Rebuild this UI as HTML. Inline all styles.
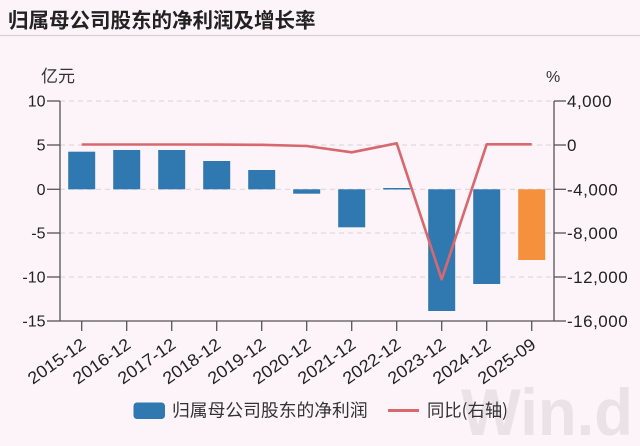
<!DOCTYPE html>
<html><head><meta charset="utf-8">
<style>
html,body{margin:0;padding:0;background:#fcf4f8;}
svg{display:block;}
text{font-family:"Liberation Sans","Noto Sans CJK SC",sans-serif;}
</style></head>
<body>
<svg width="640" height="446" viewBox="0 0 640 446" xmlns="http://www.w3.org/2000/svg">
<rect x="0" y="0" width="640" height="446" fill="#fcf4f8"/>
<!-- title -->
<text x="8" y="27.5" font-size="20.5" font-weight="bold" fill="#222" style="font-family:'Noto Sans CJK SC',sans-serif">归属母公司股东的净利润及增长率</text>
<line x1="0" y1="35.5" x2="640" y2="35.5" stroke="#d4cfd2" stroke-width="1.3"/>

<!-- watermark -->
<text x="461" y="435" font-size="66" font-weight="bold" fill="#ebe2e7" textLength="172" lengthAdjust="spacingAndGlyphs">Win.d</text>

<!-- gridlines -->
<g stroke="#d9d2d6" stroke-width="1" stroke-dasharray="5,4">
<line x1="60" y1="101" x2="554" y2="101"/>
<line x1="60" y1="145" x2="554" y2="145"/>
<line x1="60" y1="189.3" x2="554" y2="189.3"/>
<line x1="60" y1="233" x2="554" y2="233"/>
<line x1="60" y1="277" x2="554" y2="277"/>
</g>

<!-- bars -->
<g fill="#2f78b0">
<rect x="68.2" y="151.7" width="27" height="37.6"/>
<rect x="113.2" y="150" width="27" height="39.3"/>
<rect x="158.2" y="150" width="27" height="39.3"/>
<rect x="203.2" y="161" width="27" height="28.3"/>
<rect x="248.2" y="170" width="27" height="19.3"/>
<rect x="293.2" y="189.3" width="27" height="4.4"/>
<rect x="338.2" y="189.3" width="27" height="38"/>
<rect x="383.2" y="188" width="27" height="1.5"/>
<rect x="428.2" y="189.3" width="27" height="121.7"/>
<rect x="473.2" y="189.3" width="27" height="94.7"/>
</g>
<rect x="518.2" y="189.3" width="27" height="70.7" fill="#f5913d"/>

<!-- line -->
<polyline fill="none" stroke="#d8686d" stroke-width="2.6" stroke-linejoin="round"
 points="81.7,144.5 126.7,144.5 171.7,144.5 216.7,144.6 261.7,144.8 306.7,146 351.7,152.3 396.7,143.3 441.7,279.3 486.7,144.3 531.7,144.3"/>

<!-- axes -->
<g stroke="#555" stroke-width="1.3" fill="none">
<line x1="60" y1="101" x2="60" y2="321"/>
<line x1="554" y1="101" x2="554" y2="321"/>
<line x1="60" y1="321" x2="554" y2="321"/>
<line x1="47" y1="101" x2="60" y2="101"/>
<line x1="47" y1="145" x2="60" y2="145"/>
<line x1="47" y1="189.3" x2="60" y2="189.3"/>
<line x1="47" y1="233" x2="60" y2="233"/>
<line x1="47" y1="277" x2="60" y2="277"/>
<line x1="47" y1="321" x2="60" y2="321"/>
<line x1="554" y1="101" x2="566" y2="101"/>
<line x1="554" y1="145" x2="566" y2="145"/>
<line x1="554" y1="189.3" x2="566" y2="189.3"/>
<line x1="554" y1="233" x2="566" y2="233"/>
<line x1="554" y1="277" x2="566" y2="277"/>
<line x1="554" y1="321" x2="566" y2="321"/>
<line x1="81.7" y1="321" x2="81.7" y2="331"/>
<line x1="126.7" y1="321" x2="126.7" y2="331"/>
<line x1="171.7" y1="321" x2="171.7" y2="331"/>
<line x1="216.7" y1="321" x2="216.7" y2="331"/>
<line x1="261.7" y1="321" x2="261.7" y2="331"/>
<line x1="306.7" y1="321" x2="306.7" y2="331"/>
<line x1="351.7" y1="321" x2="351.7" y2="331"/>
<line x1="396.7" y1="321" x2="396.7" y2="331"/>
<line x1="441.7" y1="321" x2="441.7" y2="331"/>
<line x1="486.7" y1="321" x2="486.7" y2="331"/>
<line x1="531.7" y1="321" x2="531.7" y2="331"/>
</g>

<!-- axis titles -->
<text x="41" y="82" font-size="17" fill="#333">亿元</text>
<text x="546" y="82" font-size="16" fill="#333">%</text>

<!-- left labels -->
<g font-size="16" fill="#222" text-anchor="end">
<text x="45.5" y="106.5">10</text>
<text x="45.5" y="150.5">5</text>
<text x="45.5" y="194.8">0</text>
<text x="45.5" y="238.5">-5</text>
<text x="45.5" y="282.5">-10</text>
<text x="45.5" y="326.5">-15</text>
</g>
<!-- right labels -->
<g font-size="17" fill="#222" letter-spacing="0.5">
<text x="567" y="107">4,000</text>
<text x="567" y="151">0</text>
<text x="567" y="195.3">-4,000</text>
<text x="567" y="239">-8,000</text>
<text x="567" y="283">-12,000</text>
<text x="567" y="327">-16,000</text>
</g>

<!-- x labels -->
<g font-size="17" fill="#222" text-anchor="end">
<text transform="translate(87,347) rotate(-35)" textLength="66" lengthAdjust="spacingAndGlyphs">2015-12</text>
<text transform="translate(132,347) rotate(-35)" textLength="66" lengthAdjust="spacingAndGlyphs">2016-12</text>
<text transform="translate(177,347) rotate(-35)" textLength="66" lengthAdjust="spacingAndGlyphs">2017-12</text>
<text transform="translate(222,347) rotate(-35)" textLength="66" lengthAdjust="spacingAndGlyphs">2018-12</text>
<text transform="translate(267,347) rotate(-35)" textLength="66" lengthAdjust="spacingAndGlyphs">2019-12</text>
<text transform="translate(312,347) rotate(-35)" textLength="66" lengthAdjust="spacingAndGlyphs">2020-12</text>
<text transform="translate(357,347) rotate(-35)" textLength="66" lengthAdjust="spacingAndGlyphs">2021-12</text>
<text transform="translate(402,347) rotate(-35)" textLength="66" lengthAdjust="spacingAndGlyphs">2022-12</text>
<text transform="translate(447,347) rotate(-35)" textLength="66" lengthAdjust="spacingAndGlyphs">2023-12</text>
<text transform="translate(492,347) rotate(-35)" textLength="66" lengthAdjust="spacingAndGlyphs">2024-12</text>
<text transform="translate(537,347) rotate(-35)" textLength="66" lengthAdjust="spacingAndGlyphs">2025-09</text>
</g>

<!-- legend -->
<rect x="133.5" y="402.5" width="31.5" height="16.5" rx="3.5" fill="#2f78b0"/>
<text x="172" y="416.5" font-size="17.8" fill="#333" style="font-family:'Noto Sans CJK SC',sans-serif">归属母公司股东的净利润</text>
<line x1="388" y1="410.5" x2="419" y2="410.5" stroke="#d8686d" stroke-width="3"/>
<text x="427" y="416.5" font-size="17.8" fill="#333" style="font-family:'Noto Sans CJK SC',sans-serif" textLength="81" lengthAdjust="spacingAndGlyphs">同比(右轴)</text>
</svg>
</body></html>
